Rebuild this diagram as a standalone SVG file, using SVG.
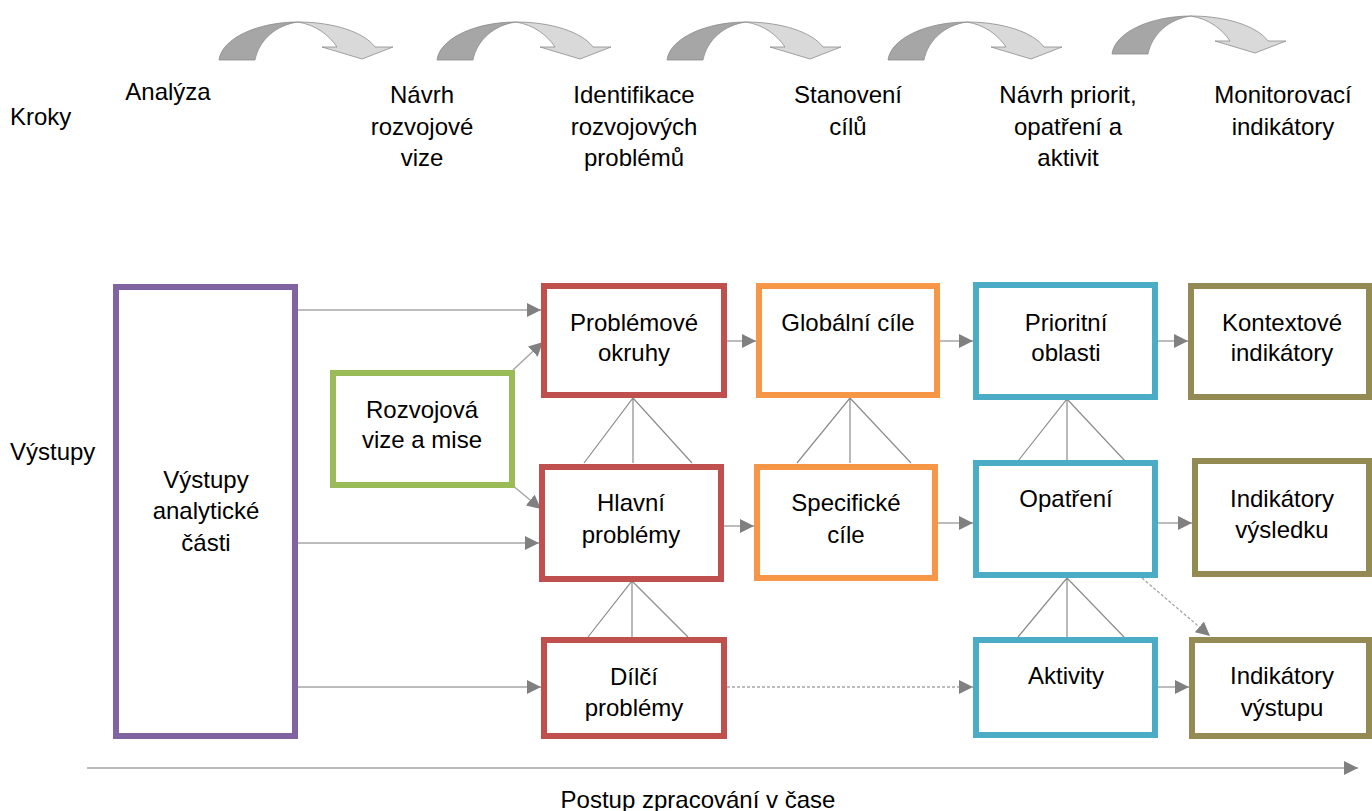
<svg xmlns="http://www.w3.org/2000/svg" xmlns:xlink="http://www.w3.org/1999/xlink" width="1372" height="811" viewBox="0 0 1372 811">
<style>
text{font-family:"Liberation Sans",Arial,sans-serif;font-size:24px;fill:#000;text-anchor:middle}
.l{text-anchor:start}
.box{fill:#fff;stroke-width:6}
.pu{stroke:#8064A2}.gr{stroke:#9BBB59}.rd{stroke:#C0504D}.or{stroke:#F79646}.bl{stroke:#4BACC6}.ol{stroke:#948A54}
.c{fill:none;stroke:#A6A6A6;stroke-width:1.5;marker-end:url(#ah)}
.d{fill:none;stroke:#A6A6A6;stroke-width:1.3;stroke-dasharray:3 2;marker-end:url(#ah)}
.t{fill:none;stroke:#8C8C8C;stroke-width:1.2}
.dk{fill:#A6A6A6;stroke:#8C8C8C;stroke-width:0.8}
.lt{fill:#D9D9D9;stroke:#8C8C8C;stroke-width:0.8}
</style>
<defs>
<marker id="ah" markerUnits="userSpaceOnUse" markerWidth="15" markerHeight="15" refX="14" refY="7" orient="auto">
<path d="M0,0 L14,7 L0,14 Z" fill="#808080"/>
</marker>
<g id="curv">
<path class="dk" d="M219,60 C222,38 258,22 298,22 C276,25 259,40 255,60 Z"/>
<path class="lt" d="M298,22 C333,22 364,32 375,47 L393,47 L362,59 L322,47 L337,47 C329,35 316,25 298,22 Z"/>
</g>
</defs>
<g id="steps">
<use xlink:href="#curv"/>
<use xlink:href="#curv" transform="translate(218,0)"/>
<use xlink:href="#curv" transform="translate(448,0)"/>
<use xlink:href="#curv" transform="translate(669,0)"/>
<use xlink:href="#curv" transform="translate(893,-6)"/>
</g>
<g id="labels">
<text class="l" x="10" y="125">Kroky</text>
<text x="168" y="100">Analýza</text>
<text x="422" y="103">Návrh</text><text x="422" y="135">rozvojové</text><text x="422" y="166">vize</text>
<text x="634" y="103">Identifikace</text><text x="634" y="135">rozvojových</text><text x="634" y="166">problémů</text>
<text x="848" y="103">Stanovení</text><text x="848" y="135">cílů</text>
<text x="1068" y="103">Návrh priorit,</text><text x="1068" y="135">opatření a</text><text x="1068" y="166">aktivit</text>
<text x="1283" y="103">Monitorovací</text><text x="1283" y="135">indikátory</text>
<text class="l" x="10" y="460">Výstupy</text>
<text x="698" y="808">Postup zpracování v čase</text>
</g>
<g id="connectors">
<path class="c" d="M298,310 L541,310"/>
<path class="c" d="M513,370 L543,342"/>
<path class="c" d="M512,485 L541,509"/>
<path class="c" d="M298,543 L539,543"/>
<path class="c" d="M298,687 L541,687"/>
<path class="c" d="M727,341 L756,341"/>
<path class="c" d="M724,526 L754,526"/>
<path class="c" d="M940,341 L973,341"/>
<path class="c" d="M938,523 L973,523"/>
<path class="c" d="M1158,341 L1188,341"/>
<path class="c" d="M1158,523 L1192,523"/>
<path class="c" d="M1158,687 L1189,687"/>
<path class="d" d="M727,687 L973,687"/>
<path class="d" d="M1142,578 L1210,636"/>
<path class="c" d="M87,768 L1358,768"/>
<path class="t" d="M584,463 L633,398 L692,463 M633,398 L633,463"/>
<path class="t" d="M588,637 L632,581 L688,637 M632,581 L632,637"/>
<path class="t" d="M797,463 L850,398 L911,463 M850,398 L850,463"/>
<path class="t" d="M1018,461 L1067,399 L1125,461 M1067,399 L1067,461"/>
<path class="t" d="M1018,637 L1067,578 L1124,637 M1067,578 L1067,637"/>
</g>
<g id="n-analyticke">
<rect class="box pu" x="116" y="287" width="179" height="449"/>
<text x="206" y="488">Výstupy</text><text x="206" y="519">analytické</text><text x="206" y="551">části</text>
</g>
<g id="n-vize">
<rect class="box gr" x="333" y="373" width="179" height="112"/>
<text x="422" y="418">Rozvojová</text><text x="422" y="448">vize a mise</text>
</g>
<g id="n-okruhy">
<rect class="box rd" x="544" y="286" width="180" height="109"/>
<text x="634" y="331">Problémové</text><text x="634" y="361">okruhy</text>
</g>
<g id="n-hlavni">
<rect class="box rd" x="542" y="467" width="179" height="112"/>
<text x="631" y="511">Hlavní</text><text x="631" y="543">problémy</text>
</g>
<g id="n-dilci">
<rect class="box rd" x="544" y="640" width="180" height="96"/>
<text x="634" y="685">Dílčí</text><text x="634" y="716">problémy</text>
</g>
<g id="n-globalni">
<rect class="box or" x="759" y="286" width="178" height="109"/>
<text x="848" y="331">Globální cíle</text>
</g>
<g id="n-specificke">
<rect class="box or" x="757" y="467" width="178" height="111"/>
<text x="846" y="511">Specifické</text><text x="846" y="543">cíle</text>
</g>
<g id="n-prioritni">
<rect class="box bl" x="976" y="285" width="179" height="112"/>
<text x="1066" y="331">Prioritní</text><text x="1066" y="361">oblasti</text>
</g>
<g id="n-opatreni">
<rect class="box bl" x="976" y="463" width="179" height="112"/>
<text x="1066" y="507">Opatření</text>
</g>
<g id="n-aktivity">
<rect class="box bl" x="976" y="640" width="179" height="95"/>
<text x="1066" y="684">Aktivity</text>
</g>
<g id="n-kontext">
<rect class="box ol" x="1191" y="286" width="178" height="111"/>
<text x="1282" y="331">Kontextové</text><text x="1282" y="361">indikátory</text>
</g>
<g id="n-vysledek">
<rect class="box ol" x="1195" y="461" width="174" height="113"/>
<text x="1282" y="507">Indikátory</text><text x="1282" y="538">výsledku</text>
</g>
<g id="n-vystup">
<rect class="box ol" x="1192" y="640" width="177" height="96"/>
<text x="1282" y="684">Indikátory</text><text x="1282" y="716">výstupu</text>
</g>
</svg>
